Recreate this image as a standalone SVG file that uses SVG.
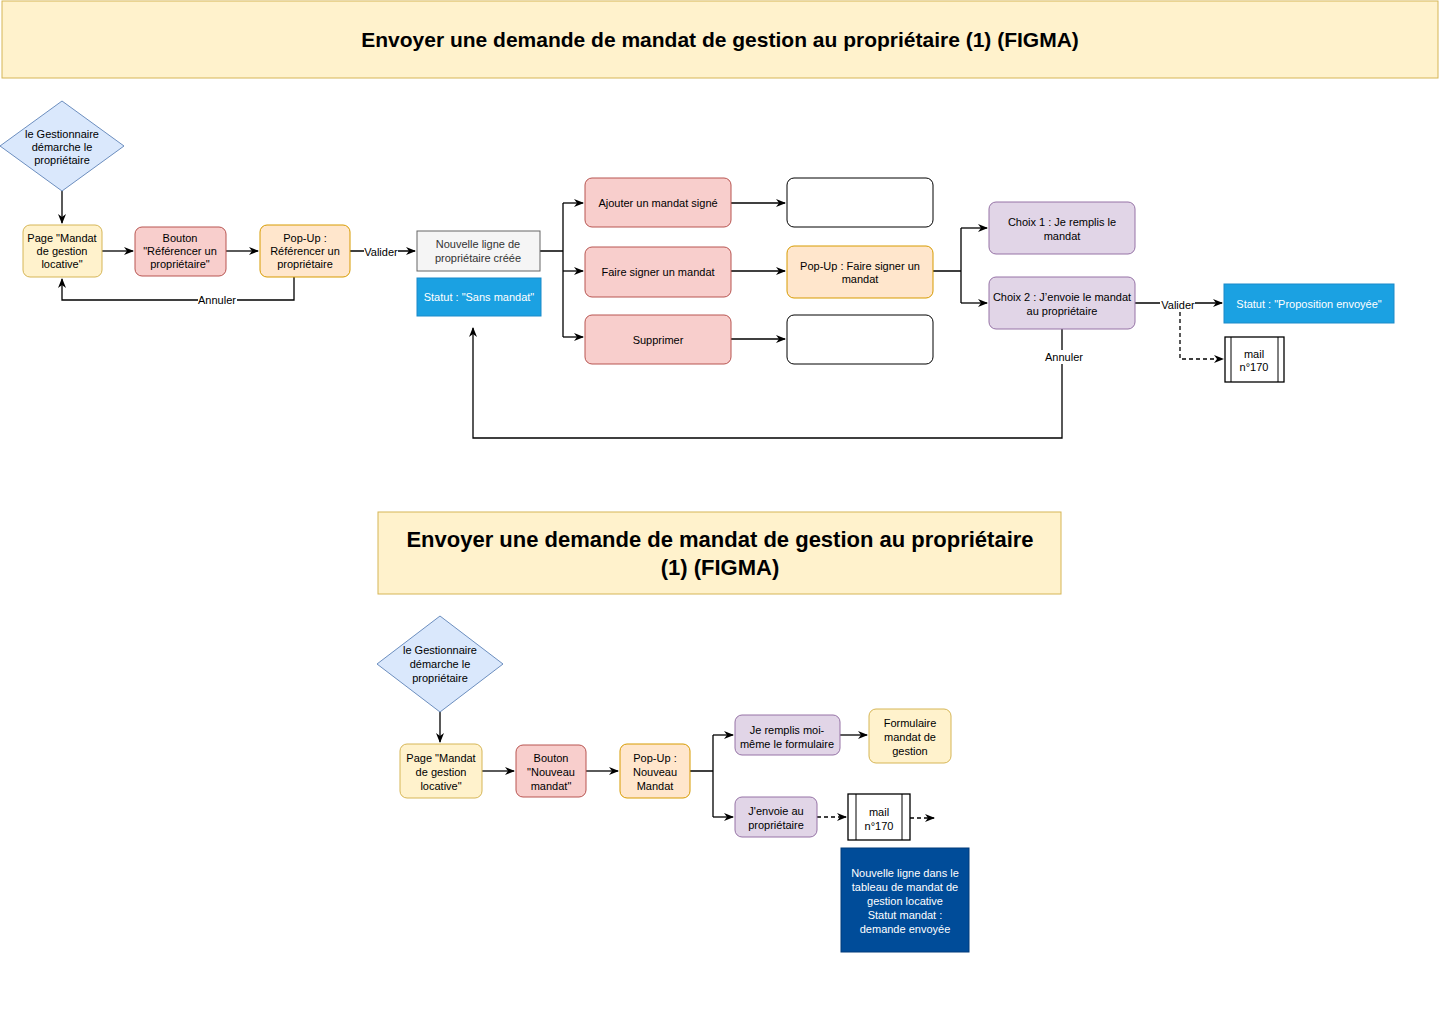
<svg xmlns="http://www.w3.org/2000/svg" width="1440" height="1024" viewBox="0 0 1440 1024">
<defs>
<marker id="a" markerWidth="10" markerHeight="8" refX="9" refY="4" orient="auto" markerUnits="userSpaceOnUse"><path d="M0,0 L10,4 L0,8 L3,4 Z" fill="#000"/></marker>
<style>
text{font-family:"Liberation Sans",Arial,sans-serif;font-size:11px;fill:#000;text-anchor:middle}
.t{font-weight:bold;font-size:21px}
.w{fill:#fff}
.y{fill:#fff2cc;stroke:#d6b656}
.r{fill:#f8cecc;stroke:#b85450}
.o{fill:#ffe6cc;stroke:#d79b00}
.p{fill:#e1d5e7;stroke:#9673a6}
.b{fill:#dae8fc;stroke:#6c8ebf}
.g{fill:#f5f5f5;stroke:#666}
.e{fill:#fff;stroke:#000}
.c{fill:none;stroke:#000;stroke-width:1.3}
.d{fill:none;stroke:#000;stroke-width:1.3;stroke-dasharray:4 3}
.lb{fill:#fff}
</style>
</defs>
<rect fill="#fff" width="1440" height="1024"/>
<g id="title1"><rect x="2" y="1" width="1436" height="77" class="y"/><text x="720" y="47" class="t">Envoyer une demande de mandat de gestion au propriétaire (1) (FIGMA)</text></g>
<g id="connectors">
<path class="c" d="M62,191V223" marker-end="url(#a)"/>
<path class="c" d="M102,251H133" marker-end="url(#a)"/>
<path class="c" d="M226,251H258" marker-end="url(#a)"/>
<path class="c" d="M350,251H415" marker-end="url(#a)"/>
<path class="c" d="M294,277V300H62V279" marker-end="url(#a)"/>
<path class="c" d="M540,251H563M563,203V337"/>
<path class="c" d="M563,203H583" marker-end="url(#a)"/>
<path class="c" d="M563,271H583" marker-end="url(#a)"/>
<path class="c" d="M563,337H583" marker-end="url(#a)"/>
<path class="c" d="M731,203H785" marker-end="url(#a)"/>
<path class="c" d="M731,271H785" marker-end="url(#a)"/>
<path class="c" d="M731,339H785" marker-end="url(#a)"/>
<path class="c" d="M933,271H961M961,228V303"/>
<path class="c" d="M961,228H987" marker-end="url(#a)"/>
<path class="c" d="M961,303H987" marker-end="url(#a)"/>
<path class="c" d="M1135,303H1222" marker-end="url(#a)"/>
<path class="d" d="M1180,312V359H1223" marker-end="url(#a)"/>
<path class="c" d="M1062,329V438H473V328" marker-end="url(#a)"/>
<path class="c" d="M440,712V742" marker-end="url(#a)"/>
<path class="c" d="M482,771H514" marker-end="url(#a)"/>
<path class="c" d="M586,771H618" marker-end="url(#a)"/>
<path class="c" d="M690,771H713M713,735V817"/>
<path class="c" d="M713,735H733" marker-end="url(#a)"/>
<path class="c" d="M713,817H733" marker-end="url(#a)"/>
<path class="c" d="M840,735H867" marker-end="url(#a)"/>
<path class="d" d="M817,817H846" marker-end="url(#a)"/>
<path class="d" d="M910,818H934" marker-end="url(#a)"/>
<rect x="364" y="245" width="34" height="14" class="lb"/><text x="381" y="256">Valider</text>
<rect x="198" y="293" width="39" height="14" class="lb"/><text x="217" y="304">Annuler</text>
<rect x="1160" y="298" width="35" height="14" class="lb"/><text x="1178" y="309">Valider</text>
<rect x="1044" y="350" width="40" height="14" class="lb"/><text x="1064" y="361">Annuler</text>
</g>
<g id="n1"><path d="M62,101L124,146L62,191L0,146Z" class="b"/><text x="62" y="138">le Gestionnaire</text><text x="62" y="151">démarche le</text><text x="62" y="164">propriétaire</text></g>
<g id="n2"><rect x="23" y="225" width="79" height="52" rx="7" class="y"/><text x="62" y="242">Page "Mandat</text><text x="62" y="255">de gestion</text><text x="62" y="268">locative"</text></g>
<g id="n3"><rect x="135" y="227" width="91" height="49" rx="7" class="r"/><text x="180" y="242">Bouton</text><text x="180" y="255">"Référencer un</text><text x="180" y="268">propriétaire"</text></g>
<g id="n4"><rect x="260" y="225" width="90" height="52" rx="7" class="o"/><text x="305" y="242">Pop-Up :</text><text x="305" y="255">Référencer un</text><text x="305" y="268">propriétaire</text></g>
<g id="n5"><rect x="417" y="231" width="123" height="40" class="g"/><text x="478" y="248" style="fill:#333">Nouvelle ligne de</text><text x="478" y="262" style="fill:#333">propriétaire créée</text></g>
<g id="n6"><rect x="417" y="278" width="124" height="38" fill="#1ba1e2" stroke="#1b8ac9"/><text x="479" y="301" class="w">Statut : "Sans mandat"</text></g>
<g id="n7"><rect x="585" y="178" width="146" height="49" rx="7" class="r"/><text x="658" y="207">Ajouter un mandat signé</text></g>
<g id="n8"><rect x="585" y="247" width="146" height="50" rx="7" class="r"/><text x="658" y="276">Faire signer un mandat</text></g>
<g id="n9"><rect x="585" y="315" width="146" height="49" rx="7" class="r"/><text x="658" y="344">Supprimer</text></g>
<g id="n10"><rect x="787" y="178" width="146" height="49" rx="7" class="e"/></g>
<g id="n11"><rect x="787" y="246" width="146" height="52" rx="7" class="o"/><text x="860" y="270">Pop-Up : Faire signer un</text><text x="860" y="283">mandat</text></g>
<g id="n12"><rect x="787" y="315" width="146" height="49" rx="7" class="e"/></g>
<g id="n13"><rect x="989" y="202" width="146" height="52" rx="7" class="p"/><text x="1062" y="226">Choix 1 : Je remplis le</text><text x="1062" y="240">mandat</text></g>
<g id="n14"><rect x="989" y="277" width="146" height="52" rx="7" class="p"/><text x="1062" y="301">Choix 2 : J’envoie le mandat</text><text x="1062" y="315">au propriétaire</text></g>
<g id="n15"><rect x="1224" y="284" width="170" height="39" fill="#1ba1e2" stroke="#1b8ac9"/><text x="1309" y="308" class="w">Statut : "Proposition envoyée"</text></g>
<g id="n16"><rect x="1225" y="337" width="59" height="45" class="e" stroke-width="1.3"/><path d="M1231,337V382M1278,337V382" stroke="#000"/><text x="1254" y="358">mail</text><text x="1254" y="371">n°170</text></g>
<g id="title2"><rect x="378" y="512" width="683" height="82" class="y"/><text x="720" y="547" class="t" style="font-size:22px">Envoyer une demande de mandat de gestion au propriétaire</text><text x="720" y="575" class="t" style="font-size:22px">(1) (FIGMA)</text></g>
<g id="m1"><path d="M440,616L503,664L440,712L377,664Z" class="b"/><text x="440" y="654">le Gestionnaire</text><text x="440" y="668">démarche le</text><text x="440" y="682">propriétaire</text></g>
<g id="m2"><rect x="400" y="744" width="82" height="54" rx="7" class="y"/><text x="441" y="762">Page "Mandat</text><text x="441" y="776">de gestion</text><text x="441" y="790">locative"</text></g>
<g id="m3"><rect x="516" y="745" width="70" height="52" rx="7" class="r"/><text x="551" y="762">Bouton</text><text x="551" y="776">"Nouveau</text><text x="551" y="790">mandat"</text></g>
<g id="m4"><rect x="620" y="744" width="70" height="54" rx="7" class="o"/><text x="655" y="762">Pop-Up :</text><text x="655" y="776">Nouveau</text><text x="655" y="790">Mandat</text></g>
<g id="m5"><rect x="735" y="715" width="105" height="40" rx="7" class="p"/><text x="787" y="734">Je remplis moi-</text><text x="787" y="748">même le formulaire</text></g>
<g id="m6"><rect x="869" y="709" width="82" height="54" rx="7" class="y"/><text x="910" y="727">Formulaire</text><text x="910" y="741">mandat de</text><text x="910" y="755">gestion</text></g>
<g id="m7"><rect x="735" y="797" width="82" height="40" rx="7" class="p"/><text x="776" y="815">J'envoie au</text><text x="776" y="829">propriétaire</text></g>
<g id="m8"><rect x="848" y="794" width="62" height="46" class="e" stroke-width="1.3"/><path d="M856,794V840M902,794V840" stroke="#000"/><text x="879" y="816">mail</text><text x="879" y="830">n°170</text></g>
<g id="m9"><rect x="841" y="848" width="128" height="104" fill="#004c99" stroke="#003a7a"/><text x="905" y="877" class="w">Nouvelle ligne dans le</text><text x="905" y="891" class="w">tableau de mandat de</text><text x="905" y="905" class="w">gestion locative</text><text x="905" y="919" class="w">Statut mandat :</text><text x="905" y="933" class="w">demande envoyée</text></g>
</svg>
